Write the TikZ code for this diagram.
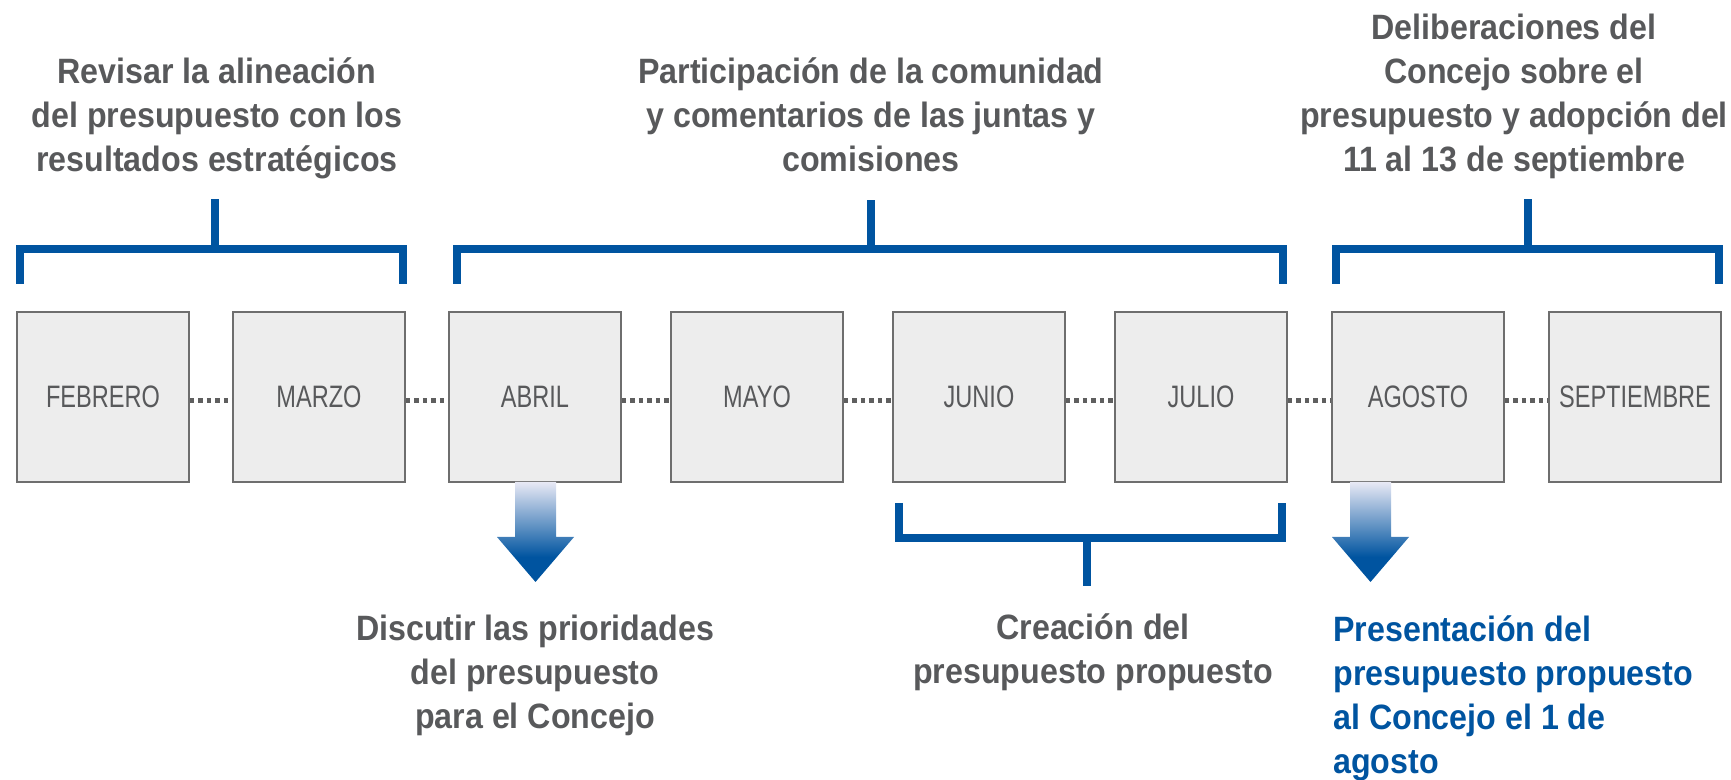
\documentclass[tikz,border=0pt]{standalone}
\usepackage{fontspec}
\newfontfamily\labfont[FakeStretch=0.915]{Liberation Sans}
\newfontfamily\monfont[FakeStretch=0.76]{Liberation Sans}
\definecolor{cblue}{HTML}{0054A0}
\definecolor{clight}{HTML}{E8E9F5}
\definecolor{txtgray}{HTML}{58595B}
\definecolor{boxfill}{HTML}{EDEDED}
\definecolor{boxline}{HTML}{6E6E6E}
\definecolor{dotgray}{HTML}{5F5F5F}
\pgfdeclareverticalshading{arrowshade}{100bp}{color(0bp)=(cblue); color(37.5bp)=(cblue); color(75bp)=(clight); color(100bp)=(clight)}
\begin{document}
\begin{tikzpicture}[x=0.5pt,y=-0.5pt,
  month/.style={draw=boxline, line width=0.75pt, fill=boxfill, minimum width=86pt, minimum height=85pt, inner sep=0pt, font=\monfont\fontsize{15.5}{18}\selectfont, text=txtgray},
  dots/.style={draw=dotgray, line width=2.5pt, dash pattern=on 2.15pt off 2.1pt},
  brk/.style={draw=cblue, line width=4pt, miter limit=10},
  lab/.style={font=\labfont\bfseries\fontsize{17.6}{22}\selectfont, text=txtgray, align=center, inner sep=0pt},
  downarrow/.style={shading=arrowshade}
]
\useasboundingbox (0,0) rectangle (1731,780);

% month boxes
\node[month] (feb) at (103,397) {FEBRERO};
\node[month] (mar) at (319,397) {MARZO};
\node[month] (abr) at (535,397) {ABRIL};
\node[month] (may) at (757,397) {MAYO};
\node[month] (jun) at (979,397) {JUNIO};
\node[month] (jul) at (1201,397) {JULIO};
\node[month] (ago) at (1418,397) {AGOSTO};
\node[month] (sep) at (1635,397) {SEPTIEMBRE};

% dotted connectors
\foreach \a/\b in {feb/mar, mar/abr, abr/may, may/jun, jun/jul, jul/ago, ago/sep}
  \draw[dots] ([yshift=-2pt]\a.east) -- ([yshift=-2pt]\b.west);

% labels (anchor=base is the baseline of the last line)
\node[lab, anchor=base] (t1) at (217,172) {Revisar la alineación\\del presupuesto con los\\resultados estratégicos};
\node[lab, anchor=base] (t2) at (871,172) {Participación de la comunidad\\y comentarios de las juntas y\\comisiones};
\node[lab, anchor=base] (t3) at (1514,172) {Deliberaciones del\\Concejo sobre el\\presupuesto y adopción del\\11 al 13 de septiembre};
\node[lab, anchor=base] (t4) at (535,728) {Discutir las prioridades\\del presupuesto\\para el Concejo};
\node[lab, anchor=base] (t5) at (1093,683) {Creación del\\presupuesto propuesto};
\node[lab, anchor=base west, align=left, text=cblue] (t6) at (1333,773) {Presentación del\\presupuesto propuesto\\al Concejo el 1 de\\agosto};

% bracket 1
\coordinate (b1a) at (20,284);
\coordinate (b1b) at (402.5,284);
\coordinate (b1m) at (215,249);
\coordinate (b1s) at (215,199);
\draw[brk] (b1a) |- (b1m) -| (b1b);
\draw[brk] (b1m) -- (b1s);
% bracket 2
\coordinate (b2a) at (457,284);
\coordinate (b2b) at (1283,284);
\coordinate (b2m) at (871,249);
\coordinate (b2s) at (871,200);
\draw[brk] (b2a) |- (b2m) -| (b2b);
\draw[brk] (b2m) -- (b2s);
% bracket 3
\coordinate (b3a) at (1336,284);
\coordinate (b3b) at (1719,284);
\coordinate (b3m) at (1528,249);
\coordinate (b3s) at (1528,199);
\draw[brk] (b3a) |- (b3m) -| (b3b);
\draw[brk] (b3m) -- (b3s);
% bracket 4 (below)
\coordinate (b4a) at (899,503);
\coordinate (b4b) at (1282,503);
\coordinate (b4m) at (1087,538);
\coordinate (b4s) at (1087,586);
\draw[brk] (b4a) |- (b4m) -| (b4b);
\draw[brk] (b4m) -- (b4s);

% shaded arrows
\path[downarrow] (515,482) -- (556,482) -- (556,537) -- (574,537) -- (535.5,582) -- (497,537) -- (515,537) -- cycle;
\path[downarrow] (1350,482) -- (1391,482) -- (1391,537) -- (1409,537) -- (1370.5,582) -- (1332,537) -- (1350,537) -- cycle;
\end{tikzpicture}
\end{document}
